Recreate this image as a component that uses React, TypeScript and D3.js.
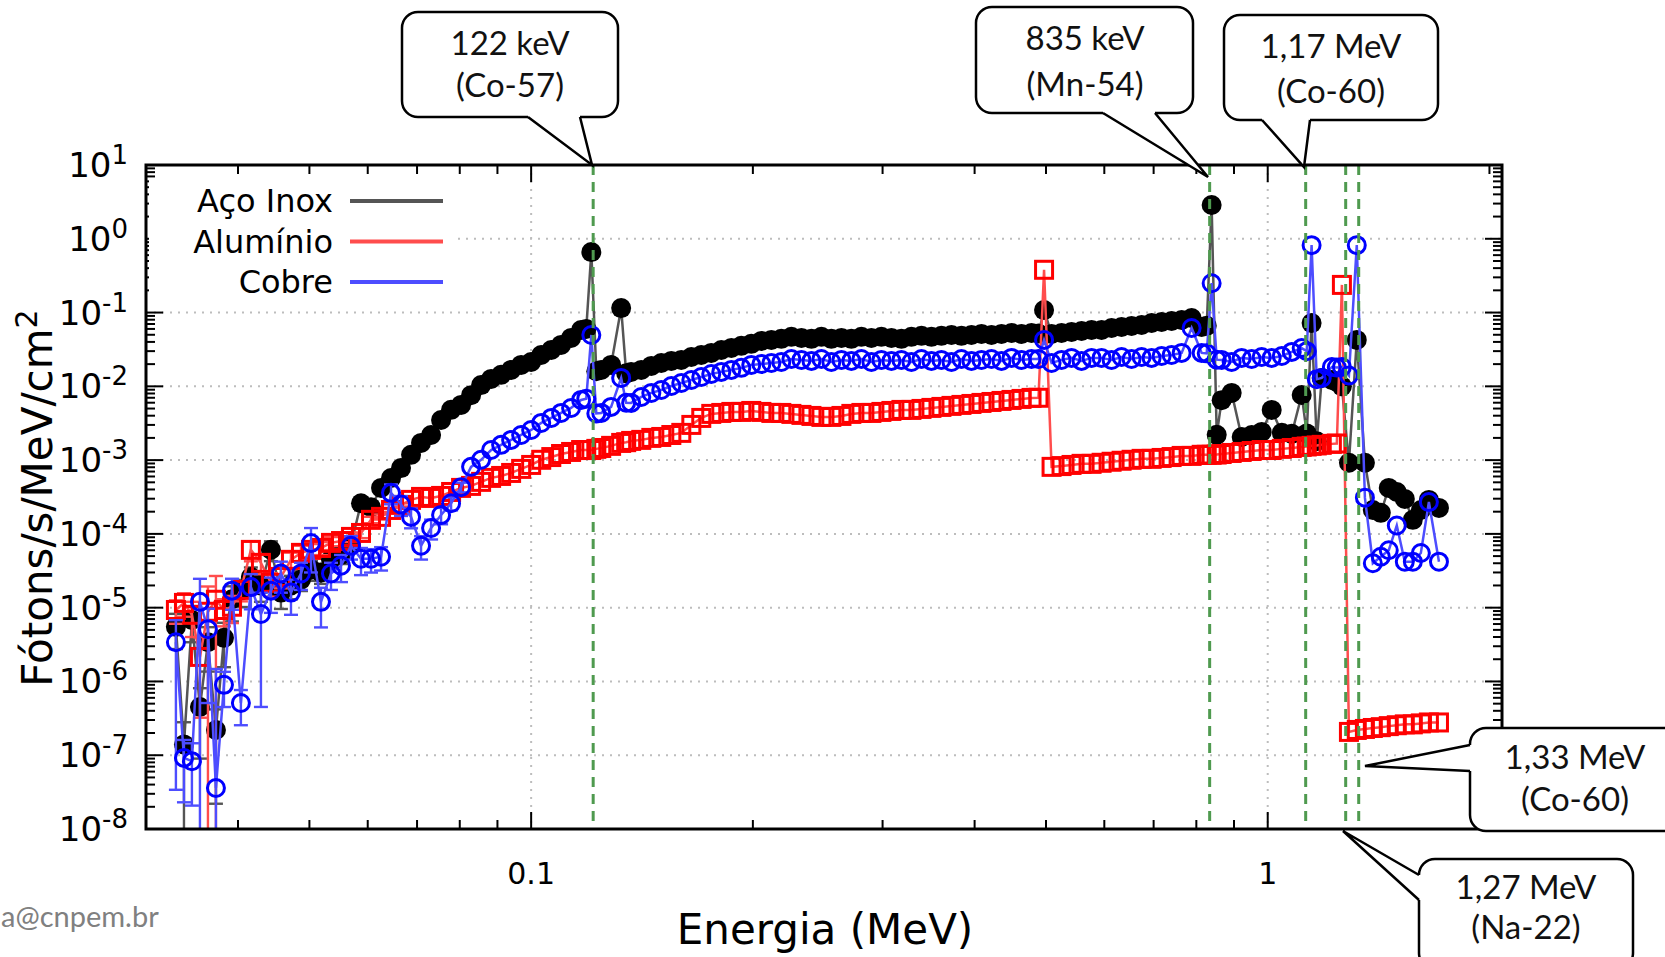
import React, { useRef, useEffect } from 'react';
import * as d3 from 'd3';

// energia de cada canal (MeV)
const energia = [
  0.03294, 0.03378, 0.03463, 0.03551, 0.03641, 0.03733, 0.03828, 0.03925, 0.04036, 0.04164,
  0.04297, 0.04433, 0.04574, 0.0472, 0.0487, 0.05025, 0.05184, 0.05349, 0.05519, 0.05694,
  0.05875, 0.06062, 0.06255, 0.06453, 0.06658, 0.0687, 0.07088, 0.07314, 0.07546, 0.07786,
  0.08033, 0.08288, 0.08552, 0.08824, 0.09104, 0.09393, 0.09692, 0.1, 0.1032, 0.1065,
  0.1098, 0.1133, 0.1169, 0.1188, 0.1207, 0.1226, 0.1245, 0.1284, 0.1325, 0.1346, 0.1367, 0.1411, 0.1456,
  0.1502, 0.155, 0.1599, 0.165, 0.1702, 0.1756, 0.1812, 0.187, 0.1929, 0.199,
  0.2054, 0.2119, 0.2186, 0.2256, 0.2328, 0.2402, 0.2478, 0.2556, 0.2638, 0.2721,
  0.2808, 0.2897, 0.2989, 0.3084, 0.3182, 0.3283, 0.3388, 0.3495, 0.3606, 0.3721,
  0.3839, 0.3961, 0.4087, 0.4217, 0.4351, 0.4489, 0.4632, 0.4779, 0.4884, 0.497, 0.5088,
  0.5249, 0.5416, 0.5588, 0.5766, 0.5949, 0.6138, 0.6333, 0.6534, 0.6742, 0.6956,
  0.7177, 0.7405, 0.7641, 0.7883, 0.8134, 0.8264, 0.8392, 0.8526, 0.8659, 0.8934, 0.9218, 0.9511,
  0.9813, 1.0125, 1.045, 1.078, 1.112, 1.1297, 1.147, 1.1657, 1.184, 1.222, 1.2411, 1.261, 1.289,
  1.321, 1.355, 1.389, 1.424, 1.46, 1.497, 1.535, 1.574, 1.614, 1.655,
  1.708
];

const acoInox = [
  5.5e-6, 1.4e-7, 6.8e-6, 4.5e-7, 3.4e-6, 2.2e-7, 3.9e-6, 1.3e-5, 1.7e-5, 2.6e-5,
  2.0e-5, 6.1e-5, 1.6e-5, 2.0e-5, 2.4e-5, 3.3e-5, 3.0e-5, 4.5e-5, 5.2e-5, 7.1e-5,
  2.6e-4, 2.3e-4, 4.2e-4, 5.7e-4, 7.8e-4, 1.18e-3, 1.71e-3, 2.19e-3, 3.5e-3, 4.8e-3,
  5.6e-3, 7.6e-3, 1.04e-2, 1.26e-2, 1.43e-2, 1.67e-2, 1.95e-2, 2.14e-2, 2.66e-2, 3.11e-2,
  3.64e-2, 4.53e-2, 5.81e-2, 6.0e-2, 0.66, 1.6e-2, 1.67e-2, 1.95e-2, 0.115, 1.5e-2, 1.57e-2, 1.67e-2, 1.89e-2,
  2.07e-2, 2.21e-2, 2.28e-2, 2.50e-2, 2.66e-2, 2.84e-2, 3.11e-2, 3.32e-2, 3.54e-2, 3.77e-2,
  4.13e-2, 4.26e-2, 4.40e-2, 4.69e-2, 4.53e-2, 4.40e-2, 4.69e-2, 4.40e-2, 4.53e-2, 4.40e-2,
  4.69e-2, 4.53e-2, 4.69e-2, 4.53e-2, 4.40e-2, 4.69e-2, 4.83e-2, 4.69e-2, 4.83e-2, 4.97e-2,
  4.83e-2, 4.97e-2, 5.13e-2, 4.97e-2, 5.13e-2, 5.29e-2, 5.13e-2, 5.29e-2, 5.2e-2, 0.108, 5.13e-2,
  5.29e-2, 5.46e-2, 5.63e-2, 5.81e-2, 5.81e-2, 6.18e-2, 6.37e-2, 6.57e-2, 6.78e-2, 7.23e-2,
  7.45e-2, 7.68e-2, 7.92e-2, 8.45e-2, 6.37e-2, 6.6e-2, 2.87, 2.2e-3, 6.5e-3, 8.14e-3, 2.06e-3, 2.19e-3,
  2.41e-3, 4.79e-3, 2.34e-3, 2.27e-3, 7.64e-3, 2.3e-3, 7.2e-2, 1.8e-3, 1.3e-2, 1.22e-2, 1.15e-2, 1.0e-2, 9.2e-4,
  4.26e-2, 9.2e-4, 2.11e-4, 1.93e-4, 4.2e-4, 3.7e-4, 2.98e-4, 1.55e-4, 2.11e-4, 2.89e-4,
  2.25e-4
];

const aluminio = [
  9.3e-6, 1.16e-5, 8.0e-6, 2.15e-6, 8.8e-6, 1.28e-5, 9.3e-6, 1.03e-5, 1.74e-5, 6.07e-5,
  4.05e-5, 2.17e-5, 2.61e-5, 4.45e-5, 5.53e-5, 6.07e-5, 6.45e-5, 7.55e-5, 8.0e-5, 9.1e-5,
  1.03e-4, 1.55e-4, 1.70e-4, 2.11e-4, 2.47e-4, 2.89e-4, 3.17e-4, 3.07e-4, 3.27e-4, 3.7e-4,
  4.2e-4, 4.47e-4, 5.07e-4, 5.74e-4, 6.1e-4, 6.7e-4, 7.6e-4, 8.6e-4, 1.01e-3, 1.10e-3,
  1.21e-3, 1.29e-3, 1.37e-3, 1.37e-3, 1.37e-3, 1.42e-3, 1.46e-3, 1.56e-3, 1.71e-3, 1.75e-3, 1.82e-3, 1.88e-3, 2.0e-3,
  2.06e-3, 2.19e-3, 2.34e-3, 3.0e-3, 3.73e-3, 4.23e-3, 4.36e-3, 4.50e-3, 4.50e-3, 4.64e-3,
  4.50e-3, 4.36e-3, 4.36e-3, 4.23e-3, 4.10e-3, 3.97e-3, 3.85e-3, 3.85e-3, 3.97e-3, 4.23e-3,
  4.36e-3, 4.36e-3, 4.50e-3, 4.64e-3, 4.79e-3, 4.79e-3, 4.94e-3, 5.10e-3, 5.26e-3, 5.43e-3,
  5.60e-3, 5.77e-3, 5.96e-3, 6.14e-3, 6.34e-3, 6.54e-3, 6.75e-3, 6.97e-3, 7.0e-3, 0.38, 8.1e-4,
  8.3e-4, 8.6e-4, 8.9e-4, 8.9e-4, 9.2e-4, 9.5e-4, 9.8e-4, 1.01e-3, 1.04e-3, 1.04e-3,
  1.07e-3, 1.10e-3, 1.14e-3, 1.14e-3, 1.18e-3, 1.18e-3, 1.18e-3, 1.19e-3, 1.21e-3, 1.25e-3, 1.29e-3, 1.33e-3,
  1.37e-3, 1.37e-3, 1.42e-3, 1.46e-3, 1.51e-3, 1.53e-3, 1.56e-3, 1.58e-3, 1.61e-3, 1.66e-3, 1.68e-3, 0.237, 2.07e-7,
  2.2e-7, 2.27e-7, 2.34e-7, 2.4e-7, 2.48e-7, 2.55e-7, 2.62e-7, 2.62e-7, 2.7e-7, 2.78e-7,
  2.78e-7
];

const cobre = [
  3.4e-6, 9.2e-8, 8.3e-8, 1.2e-5, 5.1e-6, 3.6e-8, 9.0e-7, 1.7e-5, 5.1e-7, 1.9e-5,
  8.2e-6, 1.7e-5, 2.9e-5, 1.6e-5, 2.9e-5, 7.5e-5, 1.2e-5, 2.9e-5, 3.7e-5, 6.9e-5,
  4.6e-5, 4.6e-5, 4.9e-5, 3.6e-4, 2.5e-4, 1.7e-4, 6.9e-5, 1.2e-4, 1.8e-4, 2.6e-4,
  4.3e-4, 8.1e-4, 1.01e-3, 1.37e-3, 1.61e-3, 1.88e-3, 2.19e-3, 2.56e-3, 3.19e-3, 3.73e-3,
  4.36e-3, 5.09e-3, 6.54e-3, 6.8e-3, 4.97e-2, 4.3e-3, 4.36e-3, 5.26e-3, 1.30e-2, 6.0e-3, 5.96e-3, 7.18e-3, 8.14e-3,
  8.93e-3, 1.01e-2, 1.11e-2, 1.22e-2, 1.34e-2, 1.47e-2, 1.57e-2, 1.67e-2, 1.78e-2, 1.95e-2,
  2.01e-2, 2.07e-2, 2.14e-2, 2.35e-2, 2.28e-2, 2.21e-2, 2.35e-2, 2.14e-2, 2.28e-2, 2.21e-2,
  2.35e-2, 2.14e-2, 2.28e-2, 2.21e-2, 2.28e-2, 2.14e-2, 2.35e-2, 2.21e-2, 2.28e-2, 2.14e-2,
  2.35e-2, 2.21e-2, 2.28e-2, 2.35e-2, 2.21e-2, 2.43e-2, 2.28e-2, 2.35e-2, 2.35e-2, 4.26e-2, 2.07e-2,
  2.28e-2, 2.43e-2, 2.21e-2, 2.43e-2, 2.43e-2, 2.28e-2, 2.50e-2, 2.35e-2, 2.50e-2, 2.43e-2,
  2.58e-2, 2.66e-2, 2.84e-2, 6.18e-2, 2.84e-2, 2.8e-2, 0.25, 2.3e-2, 2.28e-2, 2.14e-2, 2.43e-2, 2.35e-2,
  2.50e-2, 2.43e-2, 2.58e-2, 2.93e-2, 3.3e-2, 3.0e-2, 0.82, 1.25e-2, 1.30e-2, 1.83e-2, 1.8e-2, 1.83e-2, 1.40e-2,
  0.82, 3.1e-4, 4.0e-5, 4.9e-5, 6.0e-5, 1.3e-4, 4.2e-5, 4.2e-5, 5.5e-5, 2.7e-4,
  4.2e-5
];

// erro relativo dos primeiros canais (depois disso as barras ficam escondidas pelos pontos)
const erroAco = [0.5, 1.0, 0.5, 0.8, 0.6, 0.9, 0.6, 0.5, 0.4, 0.35, 0.4, 0.3, 0.4, 0.35, 0.3, 0.3, 0.3, 0.25, 0.25, 0.2, 0.2, 0.15, 0.1, 0.08, 0.06];
const erroAlu = [0.35, 0.35, 0.5, 0.85, 1.2, 1.1, 0.4, 0.4, 0.3, 0.3, 0.3, 0.35, 0.3, 0.25, 0.25, 0.2, 0.2, 0.2, 0.15, 0.15, 0.15, 0.1, 0.08, 0.06, 0.05];
const erroCob = [0.99, 0.75, 0.75, 1.05, 0.9, 40, 0.5, 0.45, 0.5, 0.5, 0.945, 0.5, 0.45, 0.5, 0.4, 0.6, 0.55, 0.4, 0.4, 0.35, 0.4, 0.35, 0.35, 0.3, 0.3, 0.3, 0.35, 0.3, 0.25, 0.2, 0.15];

// linhas verticais dos picos (MeV)
const picos = [0.1214, 0.834, 1.126, 1.276, 1.329];

const expoentes = [1, 0, -1, -2, -3, -4, -5, -6, -7, -8];
const xTicks = [0.1, 1];
const xTickTexto = ['0.1', '1'];
const nomes = ['Aço Inox', 'Alumínio', 'Cobre'];

const baloes = [
  ['122 keV', '(Co-57)'],
  ['835 keV', '(Mn-54)'],
  ['1,17 MeV', '(Co-60)'],
  ['1,33 MeV', '(Co-60)'],
  ['1,27 MeV', '(Na-22)'],
];

const FONTE = "'DejaVu Sans', sans-serif";
const FONTE2 = "Lato, 'Open Sans', sans-serif";

function App() {
  const ref = useRef(null);

  useEffect(() => {
    const W = 1665, H = 957;
    const L = 146, R = 1502, T = 165, B = 829;

    const svg = d3.select(ref.current);
    svg.selectAll('*').remove();

    const x = d3.scaleLog().domain([0.03, 2.08]).range([L, R]);
    const y = d3.scaleLog().domain([1e-8, 10]).range([B, T]);

    svg.append('rect').attr('width', W).attr('height', H).attr('fill', '#fff');
    svg.append('defs').append('clipPath').attr('id', 'area')
      .append('rect').attr('x', L).attr('y', T).attr('width', R - L).attr('height', B - T);

    // grade pontilhada
    const grade = svg.append('g')
      .attr('stroke', '#bdbdbd').attr('stroke-width', 2).attr('stroke-dasharray', '2,6');
    expoentes.filter(e => e < 1 && e > -8).forEach(e => {
      grade.append('line').attr('x1', L).attr('x2', R).attr('y1', y(10 ** e)).attr('y2', y(10 ** e));
    });
    xTicks.forEach(v => {
      grade.append('line').attr('x1', x(v)).attr('x2', x(v)).attr('y1', T).attr('y2', B);
    });

    const series = [
      { v: acoInox, err: erroAco, cor: '#000', linha: '#555', tipo: 'disco' },
      { v: aluminio, err: erroAlu, cor: '#ff0000', linha: '#ff4d4d', tipo: 'quadrado' },
      { v: cobre, err: erroCob, cor: '#0000ff', linha: '#4d4dff', tipo: 'circulo' },
    ];

    const dados = svg.append('g').attr('clip-path', 'url(#area)');
    const linha = d3.line().x((d, i) => x(energia[i])).y(d => y(d));

    series.forEach(s => {
      const g = dados.append('g');
      g.append('path').attr('d', linha(s.v)).attr('fill', 'none')
        .attr('stroke', s.linha).attr('stroke-width', 2.5);

      s.err.forEach((r, i) => {
        const v = s.v[i];
        const cx = x(energia[i]);
        const hi = y(v * (1 + r));
        const lo = v * (1 - r) > 1e-8 ? y(v * (1 - r)) : B + 10;
        g.append('line').attr('x1', cx).attr('x2', cx).attr('y1', hi).attr('y2', lo)
          .attr('stroke', s.linha).attr('stroke-width', 2.4);
        g.append('line').attr('x1', cx - 7).attr('x2', cx + 7).attr('y1', hi).attr('y2', hi)
          .attr('stroke', s.linha).attr('stroke-width', 2.4);
        if (lo < B) {
          g.append('line').attr('x1', cx - 7).attr('x2', cx + 7).attr('y1', lo).attr('y2', lo)
            .attr('stroke', s.linha).attr('stroke-width', 2.4);
        }
      });

      if (s.tipo === 'disco') {
        g.selectAll('circle').data(s.v).join('circle')
          .attr('cx', (d, i) => x(energia[i])).attr('cy', d => y(d)).attr('r', 10)
          .attr('fill', s.cor);
      } else if (s.tipo === 'circulo') {
        g.selectAll('circle').data(s.v).join('circle')
          .attr('cx', (d, i) => x(energia[i])).attr('cy', d => y(d)).attr('r', 8.5)
          .attr('fill', 'none').attr('stroke', s.cor).attr('stroke-width', 3);
      } else {
        g.selectAll('rect').data(s.v).join('rect')
          .attr('x', (d, i) => x(energia[i]) - 8.5).attr('y', d => y(d) - 8.5)
          .attr('width', 17).attr('height', 17)
          .attr('fill', 'none').attr('stroke', s.cor).attr('stroke-width', 3);
      }
    });

    // linhas verdes dos picos
    svg.append('g').selectAll('line').data(picos).join('line')
      .attr('x1', d => x(d)).attr('x2', d => x(d)).attr('y1', T).attr('y2', B)
      .attr('stroke', '#4f9a4f').attr('stroke-width', 3).attr('stroke-dasharray', '10,7');

    // eixos e ticks
    const eixo = svg.append('g').attr('stroke', '#000').attr('stroke-width', 2);
    for (let e = -8; e <= 1; e++) {
      for (let k = 1; k <= 9; k++) {
        const v = k * 10 ** e;
        if (v > 10.001) continue;
        const yy = y(v);
        const len = k === 1 ? 17 : 9;
        eixo.append('line').attr('x1', L).attr('x2', L + len).attr('y1', yy).attr('y2', yy);
        eixo.append('line').attr('x1', R).attr('x2', R - len).attr('y1', yy).attr('y2', yy);
      }
    }
    for (let e = -2; e <= 0; e++) {
      for (let k = 1; k <= 9; k++) {
        const v = k * 10 ** e;
        const xx = x(v);
        if (xx < L + 3 || xx > R - 3) continue;
        const len = k === 1 ? 17 : 9;
        eixo.append('line').attr('x1', xx).attr('x2', xx).attr('y1', B).attr('y2', B - len);
        eixo.append('line').attr('x1', xx).attr('x2', xx).attr('y1', T).attr('y2', T + len);
      }
    }
    svg.append('rect').attr('x', L).attr('y', T).attr('width', R - L).attr('height', B - T)
      .attr('fill', 'none').attr('stroke', '#000').attr('stroke-width', 3);

    // rótulos do eixo y
    expoentes.forEach(e => {
      const t = svg.append('text').attr('x', 128).attr('y', y(10 ** e) + 12)
        .attr('text-anchor', 'end').attr('font-family', FONTE).attr('font-size', 34).attr('fill', '#000');
      t.append('tspan').text('10');
      t.append('tspan').attr('dy', -13).attr('font-size', 26).text(String(e));
    });
    // rótulos do eixo x
    xTicks.forEach((v, i) => {
      svg.append('text').attr('x', x(v)).attr('y', 884).attr('text-anchor', 'middle')
        .attr('font-family', FONTE).attr('font-size', 30).text(xTickTexto[i]);
    });

    svg.append('text').attr('x', 825).attr('y', 944).attr('text-anchor', 'middle')
      .attr('font-family', FONTE).attr('font-size', 42).text('Energia (MeV)');
    const yl = svg.append('text').attr('transform', 'translate(52,498) rotate(-90)')
      .attr('text-anchor', 'middle').attr('font-family', FONTE).attr('font-size', 42);
    yl.append('tspan').text('Fótons/s/MeV/cm');
    yl.append('tspan').attr('dy', -15).attr('font-size', 30).text('2');

    // legenda
    svg.append('rect').attr('x', 149).attr('y', 178).attr('width', 305).attr('height', 124).attr('fill', '#fff');
    const corLeg = ['#555', '#ff4d4d', '#4d4dff'];
    nomes.forEach((n, i) => {
      const cy = 201 + i * 40.5;
      svg.append('text').attr('x', 333).attr('y', cy + 11).attr('text-anchor', 'end')
        .attr('font-family', FONTE).attr('font-size', 32).text(n);
      svg.append('line').attr('x1', 350).attr('x2', 443).attr('y1', cy).attr('y2', cy)
        .attr('stroke', corLeg[i]).attr('stroke-width', 4);
    });

    // balões de anotação
    const caixas = [
      { x: 402, y: 12, w: 216, h: 105, p: [[528, 117], [592, 165], [580, 117]], lado: 'baixo', cx: 510, b: [55, 97] },
      { x: 976, y: 7, w: 217, h: 106, p: [[1103, 113], [1208, 177], [1155, 113]], lado: 'baixo', cx: 1085, b: [50, 96] },
      { x: 1224, y: 15, w: 214, h: 105, p: [[1262, 120], [1304, 167], [1310, 120]], lado: 'baixo', cx: 1331, b: [58, 103] },
      { x: 1470, y: 728, w: 215, h: 103, p: [[1470, 745], [1365, 766], [1470, 771]], lado: 'esq', cx: 1575, b: [769, 811] },
      { x: 1419, y: 859, w: 214, h: 110, p: [[1419, 875], [1343, 831], [1419, 900]], lado: 'esq', cx: 1526, b: [899, 939] },
    ];
    caixas.forEach((c, i) => {
      const g = svg.append('g');
      g.append('rect').attr('x', c.x).attr('y', c.y).attr('width', c.w).attr('height', c.h)
        .attr('rx', 16).attr('fill', '#fff').attr('stroke', '#000').attr('stroke-width', 2.5);
      const [a, t, b] = c.p;
      const dentro = c.lado === 'baixo'
        ? [[b[0], b[1] - 4], [a[0], a[1] - 4]]
        : [[b[0] + 4, b[1]], [a[0] + 4, a[1]]];
      g.append('polygon').attr('points', [a, t, b, ...dentro].map(p => p.join(',')).join(' '))
        .attr('fill', '#fff');
      g.append('polyline').attr('points', [a, t, b].map(p => p.join(',')).join(' '))
        .attr('fill', 'none').attr('stroke', '#000').attr('stroke-width', 2.5).attr('stroke-linejoin', 'miter');
      baloes[i].forEach((txt, j) => {
        g.append('text').attr('x', c.cx).attr('y', c.b[j]).attr('text-anchor', 'middle')
          .attr('font-family', FONTE2).attr('font-size', 33).attr('fill', '#111').text(txt);
      });
    });

    svg.append('text').attr('x', 1).attr('y', 927).attr('font-family', FONTE2)
      .attr('font-size', 29).attr('fill', '#808080').text('a@cnpem.br');
  }, []);

  return (
    <svg ref={ref} width={1665} height={957}
      style={{ position: 'absolute', left: 0, top: 0, display: 'block' }} />
  );
}

export default App;
